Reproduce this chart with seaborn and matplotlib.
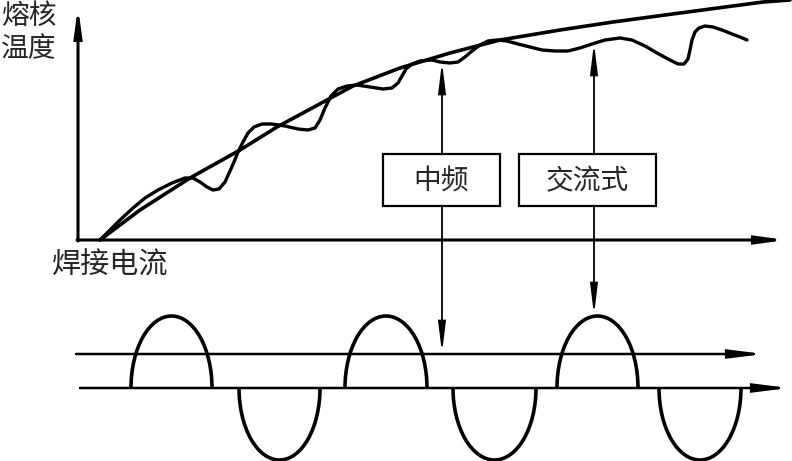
import matplotlib
matplotlib.use('Agg')
import matplotlib.pyplot as plt
from matplotlib.patches import Arc, Rectangle, FancyArrowPatch
import seaborn as sns

# smooth curve (upper envelope), pixel coords
smooth_x = [100, 140, 190, 240, 277, 327, 353, 400, 450, 500, 560, 613, 680, 763, 790]
smooth_y = [240, 210, 178, 150, 127, 100, 86, 68, 53, 40, 30, 22, 13, 2, 0]

# wavy curve (medium frequency / AC temperature)
wavy_x = [100, 110, 120, 133, 145, 158, 172, 185, 193, 200, 207, 213, 219, 225, 230,
          234, 238, 243, 248, 254, 262, 272, 285, 298, 308, 315, 320, 325, 331, 338,
          347, 357, 370, 383, 392, 398, 402, 406, 412, 420, 432, 440, 450, 458, 465,
          472, 480, 488, 497, 507, 518, 530, 542, 555, 568, 580, 592, 605, 620, 632,
          645, 657, 668, 678, 684, 688, 690, 692, 695, 699, 705, 713, 722, 732, 740,
          747]
wavy_y = [240, 230, 220, 208, 198, 190, 183, 178, 178, 182, 187, 190, 189, 182, 171,
          162, 152, 142, 133, 127, 124, 124, 126, 129, 130, 128, 120, 108, 96, 89,
          86, 85, 87, 89, 88, 83, 76, 69, 64, 61, 60, 62, 63, 62, 57,
          51, 45, 41, 40, 41, 44, 47, 50, 51, 51, 48, 44, 40, 38, 40,
          46, 53, 59, 64, 64, 59, 50, 40, 32, 28, 26, 27, 30, 34, 37,
          40]

# current half-waves along the bottom time axis
hump_start = [131, 239, 345, 453, 557, 659]
hump_end = [212, 320, 427, 536, 638, 741]
hump_sign = [1, -1, 1, -1, 1, -1]
hump_amp = 72

box_labels = ['中频', '交流式']
y_label = '熔核\n温度'
x_label = '焊接电流'

sns.set_style("white")
plt.rcParams['font.family'] = ['Noto Sans CJK SC', 'DejaVu Sans']

fig = plt.figure(figsize=(7.92, 4.61), dpi=100)
ax = fig.add_axes([0, 0, 1, 1])
ax.set_xlim(0, 792)
ax.set_ylim(461, 0)
ax.axis('off')


def arrow(p0, p1, style='-|>', lw=1.3, hl=1.6, hw=0.25):
    a = FancyArrowPatch(p0, p1, arrowstyle=f'{style},head_length={hl},head_width={hw}',
                        mutation_scale=10, lw=lw, color='black',
                        shrinkA=0, shrinkB=0, joinstyle='miter')
    ax.add_patch(a)


# axes of the upper diagram
arrow((78, 241), (78, 7), lw=2.2, hl=1.6, hw=0.22)
arrow((77, 240), (786, 240), lw=2.2, hl=1.6, hw=0.22)

# curves
sns.lineplot(x=smooth_x, y=smooth_y, ax=ax, color='black', lw=2.6,
             estimator=None, sort=False)
sns.lineplot(x=wavy_x, y=wavy_y, ax=ax, color='black', lw=2.4,
             estimator=None, sort=False)
for ln in ax.lines:
    ln.set_solid_joinstyle('round')
    ln.set_solid_capstyle('round')

# connecting double arrows
arrow((442, 353), (442, 62), style='<|-|>', lw=1.3, hl=1.8, hw=0.22)
arrow((594, 315), (594, 43), style='<|-|>', lw=1.3, hl=1.8, hw=0.22)

# label boxes
for lab, (x0, x1) in zip(box_labels, [(383, 500), (519, 656)]):
    ax.add_patch(Rectangle((x0, 154), x1 - x0, 52, facecolor='white',
                           edgecolor='black', lw=1.6, zorder=5))
    ax.text((x0 + x1) / 2, 181, lab, ha='center', va='center', fontsize=20, zorder=6)

# bottom time axes
arrow((76, 354), (764, 354), lw=1.8, hl=2.0, hw=0.25)
arrow((80, 388), (789, 388), lw=1.8, hl=2.0, hw=0.25)

for s, e, sg in zip(hump_start, hump_end, hump_sign):
    t1, t2 = (180, 360) if sg > 0 else (0, 180)
    ax.add_patch(Arc(((s + e) / 2, 388), e - s, 2 * hump_amp, theta1=t1, theta2=t2,
                     lw=2.6, color='black'))

ax.text(1, 1, y_label, ha='left', va='top', fontsize=20, linespacing=1.15)
ax.text(52, 266, x_label, ha='left', va='center', fontsize=21)

fig.savefig('out.png', dpi=100)
